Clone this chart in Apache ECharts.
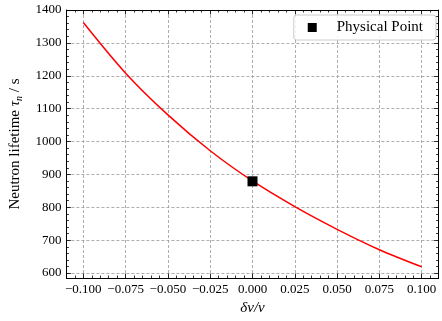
<!DOCTYPE html>
<html><head><meta charset="utf-8">
<script src="https://cdn.jsdelivr.net/npm/echarts@6/dist/echarts.min.js"></script>
<style>html,body{margin:0;padding:0;background:#fff}#c{width:442px;height:321px}</style>
</head><body><div id="c"></div>
<script>
// ---- data ----
const deltaV   = [-0.1, -0.075, -0.05, -0.025, 0, 0.025, 0.05, 0.075, 0.1];
const lifetime = [1362, 1208, 1081, 972, 880, 802, 733, 671, 619];
const physicalPoint = [0, 879];
const xTicks = [-0.1, -0.075, -0.05, -0.025, 0, 0.025, 0.05, 0.075, 0.1];
const yTicks = [600, 700, 800, 900, 1000, 1100, 1200, 1300, 1400];
const xRange = [-0.11, 0.11];
const yRange = [585, 1400];

function minorOf(ticks, n, lo, hi) {
  const step = (ticks[1] - ticks[0]) / n;
  const out = [];
  const start = ticks[0] - step * n;
  for (let t = 0; t <= ticks.length; t++) {
    const base = start + t * step * n;
    for (let k = 1; k < n; k++) {
      const v = +(base + k * step).toFixed(6);
      if (v > lo && v < hi) out.push(v);
    }
  }
  return out;
}
const xMinor = minorOf(xTicks, 5, xRange[0], xRange[1]);
const yMinor = minorOf(yTicks, 5, yRange[0], yRange[1]);

const FONT = 'Liberation Serif';
const fmtX = v => (v < 0 ? '\u2212' : '') + Math.abs(v).toFixed(3);
const fmtY = v => String(Math.round(v));

function xAx(pos, major, labels) {
  return {
    type: 'value', position: pos, min: xRange[0], max: xRange[1],
    axisLine: { show: major, onZero: false, lineStyle: { color: '#000', width: 1 } },
    axisTick: { show: true, inside: true, length: major ? 4.5 : 2.5, customValues: major ? xTicks : xMinor,
                lineStyle: { color: '#000', width: 0.8 } },
    axisLabel: labels ? { show: true, customValues: xTicks, formatter: fmtX, margin: 5,
                fontFamily: FONT, fontSize: 13, color: '#000' } : { show: false },
    splitLine: (labels ? { show: true, lineStyle: { color: '#9a9a9a', width: 0.8, type: [3, 2] } } : { show: false }),
    name: labels ? 'δv/v' : '', nameLocation: 'middle', nameGap: 18,
    nameTextStyle: { fontFamily: FONT, fontSize: 15, fontStyle: 'italic', color: '#000' }
  };
}
function yAx(pos, major, labels) {
  return {
    type: 'value', position: pos, min: yRange[0], max: yRange[1],
    axisLine: { show: major, onZero: false, lineStyle: { color: '#000', width: 1 } },
    axisTick: { show: true, inside: true, length: major ? 4.5 : 2.5, customValues: major ? yTicks : yMinor,
                lineStyle: { color: '#000', width: 0.8 } },
    axisLabel: labels ? { show: true, customValues: yTicks, formatter: fmtY, margin: 5,
                fontFamily: FONT, fontSize: 13, color: '#000' } : { show: false },
    splitLine: (labels ? { show: true, lineStyle: { color: '#9a9a9a', width: 0.8, type: [3, 2] } } : { show: false }),
    name: labels ? 'Neutron lifetime {it|τ}{sub|n} / s' : '', nameLocation: 'middle', nameGap: 36,
    nameTextStyle: { fontFamily: FONT, fontSize: 15, color: '#000',
      rich: { it: { fontFamily: FONT, fontSize: 15, fontStyle: 'italic' },
              sub: { fontFamily: FONT, fontSize: 10, fontStyle: 'italic', verticalAlign: 'bottom', lineHeight: 18 } } }
  };
}

const chart = echarts.init(document.getElementById('c'), null, { renderer: 'canvas' });
chart.setOption({
  animation: false,
  backgroundColor: '#fff',
  grid: { left: 56.7, right: 3.4, top: 10, bottom: 43, containLabel: false },
  xAxis: [xAx('bottom', true, true), xAx('bottom', false, false), xAx('top', true, false), xAx('top', false, false)],
  yAxis: [yAx('left', true, true), yAx('left', false, false), yAx('right', true, false), yAx('right', false, false)],
  legend: {
    data: ['Physical Point'], right: 6, top: 15, orient: 'vertical',
    padding: [5, 13, 5, 14], borderColor: '#cccccc', borderWidth: 1, borderRadius: 3,
    backgroundColor: 'rgba(255,255,255,0.85)',
    itemWidth: 9, itemHeight: 9, icon: 'rect',
    textStyle: { fontFamily: FONT, fontSize: 15, color: '#000', padding: [0, 0, 0, 15] }
  },
  series: [
    { name: 'curve', type: 'line', xAxisIndex: 0, yAxisIndex: 0, smooth: 0.3, showSymbol: false,
      lineStyle: { color: '#ff0000', width: 1.5 }, itemStyle: { color: '#ff0000' },
      data: deltaV.map((x, i) => [x, lifetime[i]]), z: 3 },
    { name: 'Physical Point', type: 'scatter', xAxisIndex: 0, yAxisIndex: 0, symbol: 'rect', symbolSize: 10,
      itemStyle: { color: '#000', opacity: 1 }, data: [physicalPoint], z: 5 }
  ]
});
</script></body></html>
